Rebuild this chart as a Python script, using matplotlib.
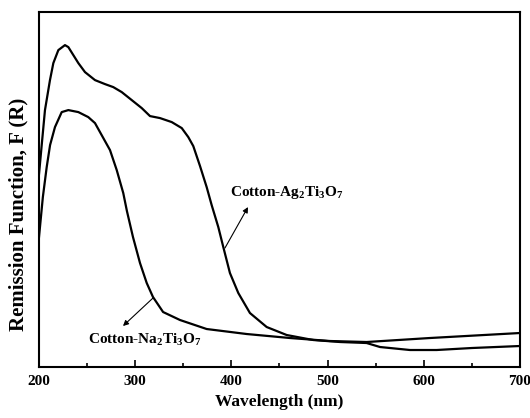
import matplotlib.pyplot as plt
from matplotlib.ticker import MultipleLocator

# Cotton-Ag2Ti3O7 curve (wavelength nm, remission a.u.)
ag_wl = [200, 206.2, 211.4, 214.9, 220.1, 227.0, 230.5, 235.7, 240.9, 247.8, 258.2,
         268.6, 277.2, 286.0, 296.4, 306.8, 315.4, 325.8, 338.0, 348.4, 355.2,
         360.4, 367.4, 374.3, 379.5, 386.4, 391.6, 398.5, 407.2, 419.3, 436.7,
         457.5, 485.1, 512.9, 540.6, 554.5, 585.7, 613.4, 650, 700]
ag_f = [1.93, 2.57, 2.87, 3.04, 3.17, 3.22, 3.20, 3.12, 3.04, 2.95, 2.87,
        2.83, 2.80, 2.75, 2.67, 2.59, 2.51, 2.49, 2.45, 2.39, 2.30,
        2.21, 2.01, 1.80, 1.62, 1.40, 1.20, 0.94, 0.74, 0.54, 0.40,
        0.32, 0.27, 0.25, 0.24, 0.20, 0.17, 0.17, 0.19, 0.21]

# Cotton-Na2Ti3O7 curve
na_wl = [200, 204, 208, 211.5, 216.6, 223.6, 230.5, 240.9, 251.2, 258.2, 263.4,
         273.8, 280.8, 287.6, 291.4, 297.7, 305, 312, 318.5, 329, 346.6, 374.3,
         415.9, 460.9, 502.5, 540.6, 606.4, 700]
na_f = [1.30, 1.70, 2.00, 2.22, 2.40, 2.55, 2.57, 2.55, 2.50, 2.44, 2.35,
        2.17, 1.97, 1.74, 1.56, 1.30, 1.04, 0.84, 0.70, 0.55, 0.47, 0.38,
        0.33, 0.29, 0.26, 0.25, 0.29, 0.34]

plt.rcParams['font.family'] = ['Liberation Serif', 'DejaVu Serif']
plt.rcParams['mathtext.fontset'] = 'custom'
plt.rcParams['mathtext.rm'] = 'Liberation Serif:bold'
plt.rcParams['mathtext.bf'] = 'Liberation Serif:bold'

fig = plt.figure(figsize=(5.30, 4.18), dpi=100)
ax = fig.add_axes([0.0736, 0.122, 0.9074, 0.849])

ax.plot(ag_wl, ag_f, color='black', lw=1.6, solid_joinstyle='round')
ax.plot(na_wl, na_f, color='black', lw=1.6, solid_joinstyle='round')

ax.set_xlim(200, 700)
ax.set_ylim(0, 3.55)
ax.xaxis.set_major_locator(MultipleLocator(100))
ax.xaxis.set_minor_locator(MultipleLocator(50))
ax.tick_params(axis='x', which='both', direction='in', labelsize=11, pad=6)
ax.tick_params(axis='x', which='major', length=5, width=1.2)
ax.tick_params(axis='x', which='minor', length=3, width=1.2)
ax.set_yticks([])
for lbl in ax.get_xticklabels():
    lbl.set_fontweight('bold')
for s in ax.spines.values():
    s.set_linewidth(1.5)

ax.set_xlabel('Wavelength (nm)', fontsize=12.5, fontweight='bold', labelpad=4)
ax.set_ylabel('Remission Function, F (R)', fontsize=15, fontweight='bold')
ax.yaxis.set_label_coords(-0.022, 0.43)

# labels with arrows
ax.text(398.5, 1.75, r'$\mathbf{Cotton\text{-}Ag_2Ti_3O_7}$', fontsize=11,
        ha='left', va='center')
ax.annotate('', xy=(417.3, 1.60), xytext=(393.3, 1.19),
            arrowprops=dict(arrowstyle='-|>', color='black', lw=0.8,
                            shrinkA=0, shrinkB=0, mutation_scale=8))
ax.text(251, 0.27, r'$\mathbf{Cotton\text{-}Na_2Ti_3O_7}$', fontsize=11,
        ha='left', va='center')
ax.annotate('', xy=(287.3, 0.41), xytext=(318.5, 0.69),
            arrowprops=dict(arrowstyle='-|>', color='black', lw=0.8,
                            shrinkA=0, shrinkB=0, mutation_scale=8))

fig.savefig('out.png', dpi=100)
